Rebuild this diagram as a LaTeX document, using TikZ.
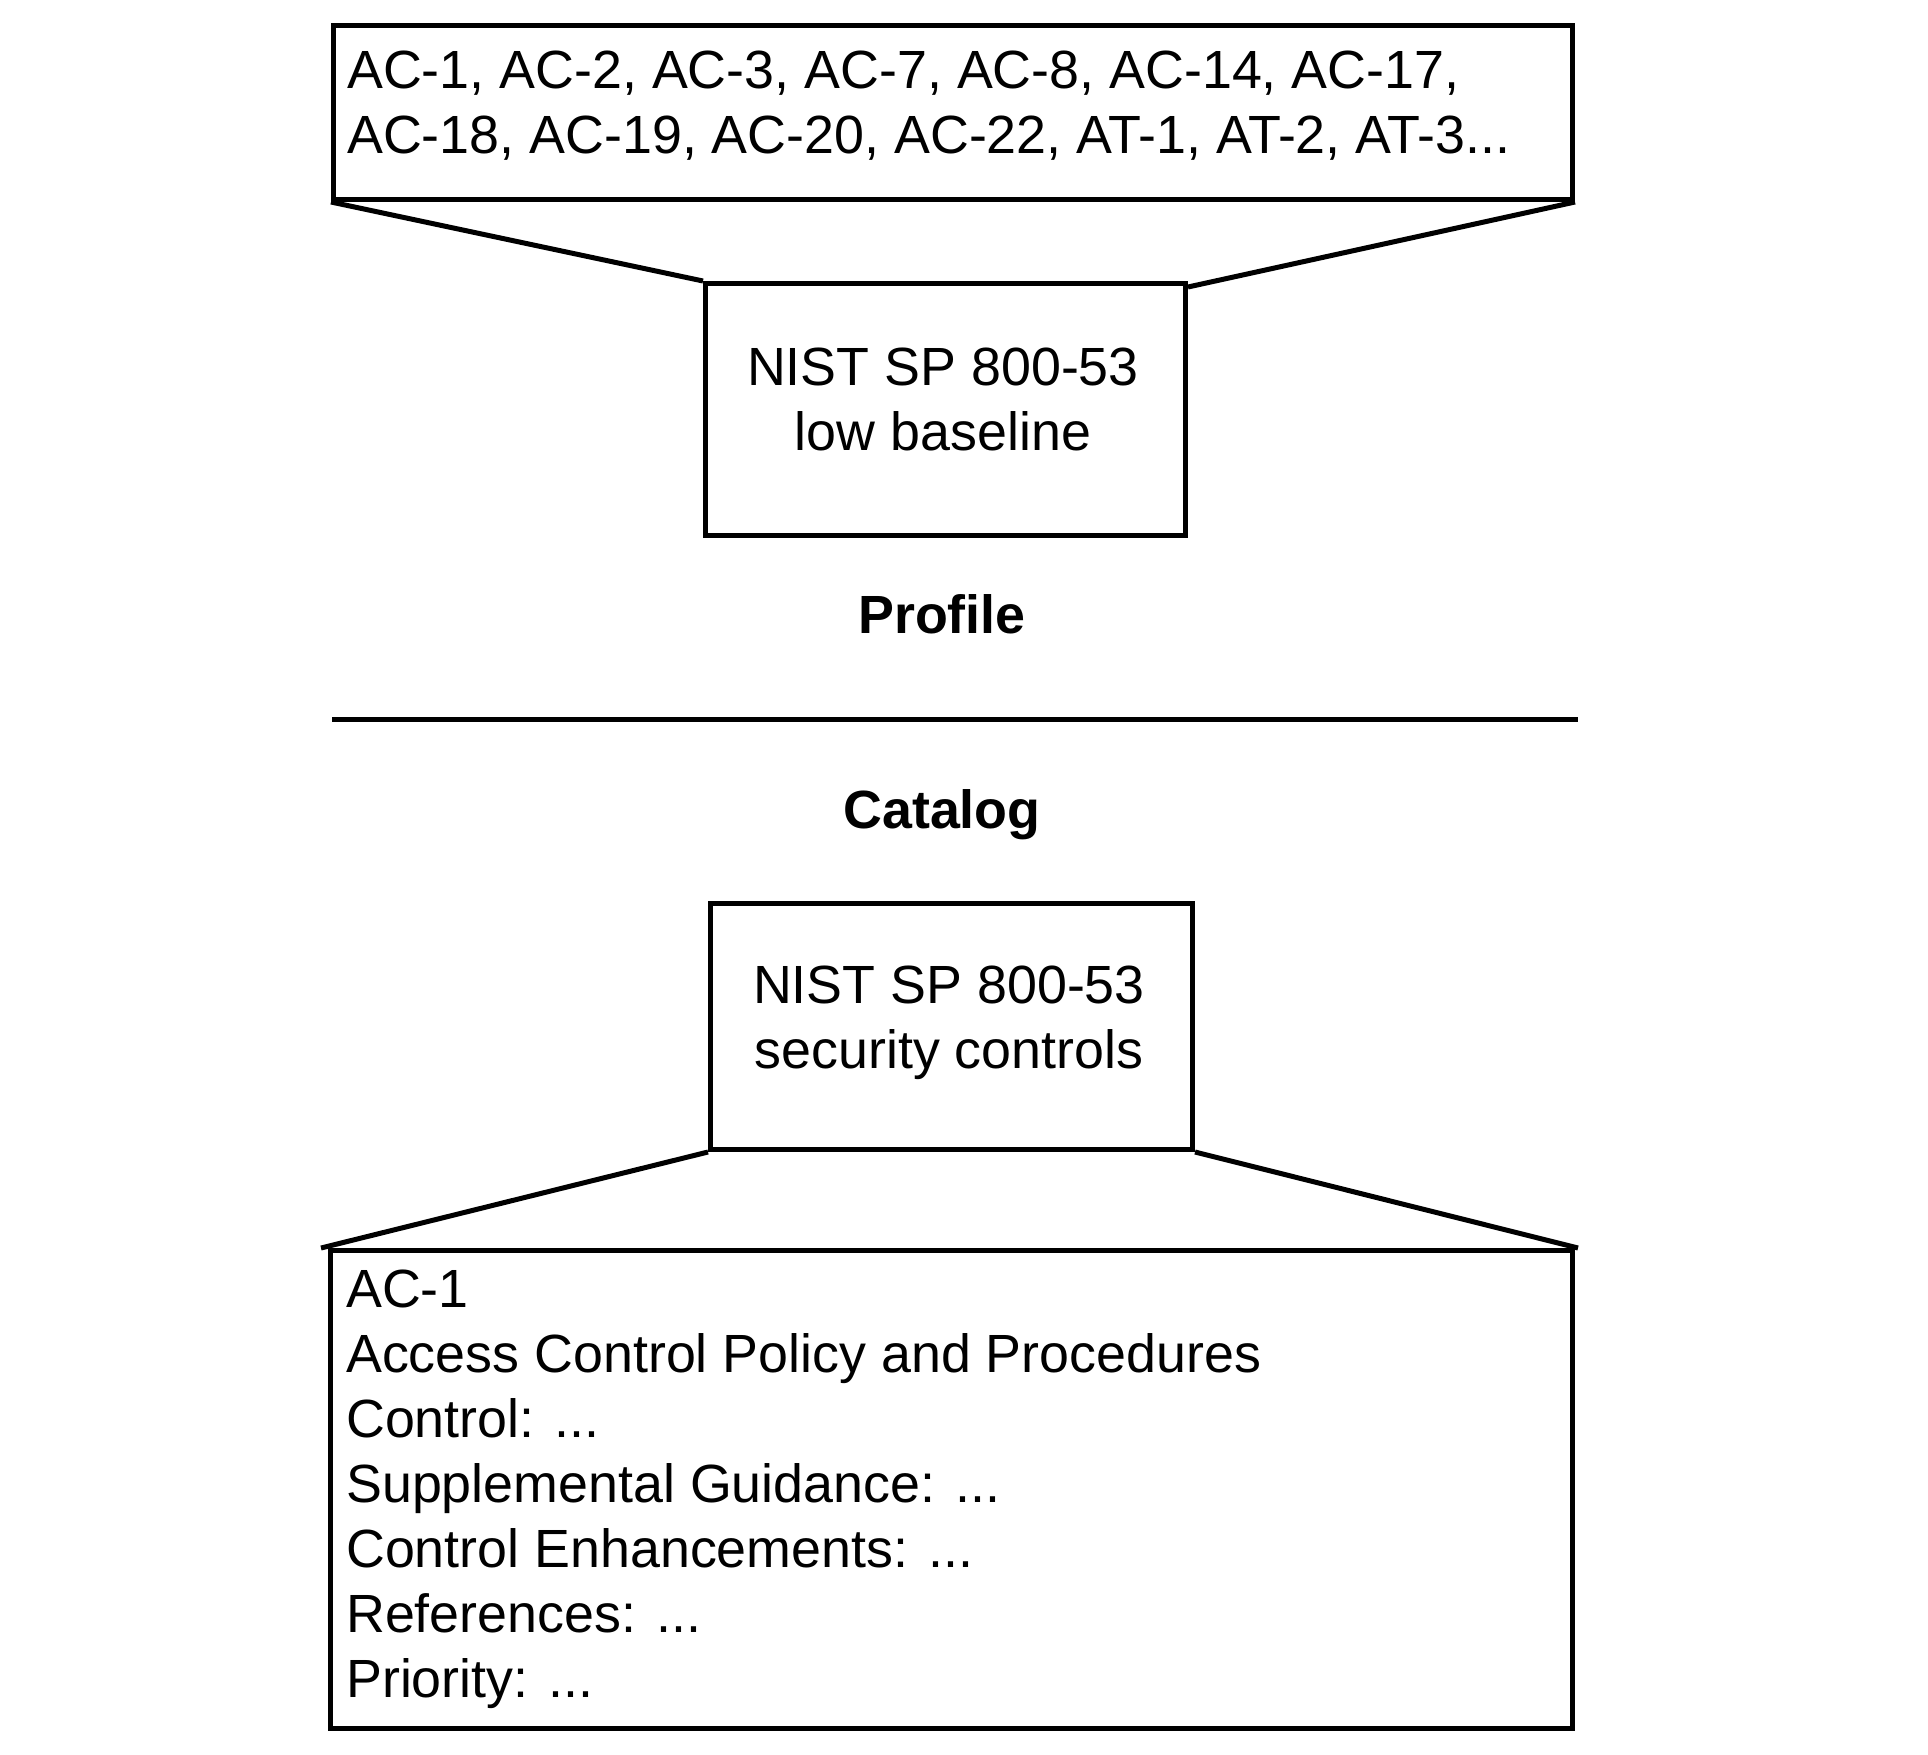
\documentclass[tikz,border=0pt]{standalone}
\usepackage{fontspec}
\setmainfont{Liberation Sans}
\begin{document}
\begin{tikzpicture}[x=1pt,y=-1pt,
  box/.style={draw,line width=5pt,inner sep=0pt,anchor=north west},
  txt/.style={font=\fontsize{53.8}{65}\selectfont,inner sep=0pt},
  bold/.style={font=\fontsize{53.8}{65}\selectfont\bfseries,inner sep=0pt,anchor=base},
  link/.style={line width=5pt,line join=round}]
\useasboundingbox (0,0) rectangle (1928,1754);
% boxes
\node[box,minimum width=1239pt,minimum height=174pt] (list) at (331,23) {};
\node[box,minimum width=480pt,minimum height=252pt] (low) at (703,281) {};
\node[box,minimum width=482pt,minimum height=246pt] (sec) at (708,901) {};
\node[box,minimum width=1242pt,minimum height=478pt] (detail) at (328,1248) {};
% connectors
\draw[link] (list.south west) -- (low.north west);
\draw[link] (list.south east) -- ([yshift=-6pt]low.north east);
\draw[link] (sec.south west) -- ([xshift=-7pt]detail.north west);
\draw[link] (sec.south east) -- ([xshift=3pt]detail.north east);
% divider
\coordinate (divL) at (332,719);
\coordinate (divR) at (1578,719);
\draw[link] (divL) -- (divR);
% texts
\node[txt,anchor=base west] (l1) at (347,88) {AC-1, AC-2, AC-3, AC-7, AC-8, AC-14, AC-17,};
\node[txt,anchor=base west] (l2) at (347,153) {AC-18, AC-19, AC-20, AC-22, AT-1, AT-2, AT-3...};
\node[txt,anchor=base] (lowa) at (943,385) {NIST SP 800-53};
\node[txt,anchor=base] (lowb) at (943,450) {low baseline};
\node[bold] (profile) at (942,633) {Profile};
\node[bold] (catalog) at (942,828) {Catalog};
\node[txt,anchor=base] (seca) at (949,1003) {NIST SP 800-53};
\node[txt,anchor=base] (secb) at (949,1068) {security controls};
\node[txt,anchor=base west] (d1) at (346,1307) {AC-1};
\node[txt,anchor=base west] (d2) at (346,1372) {Access Control Policy and Procedures};
\node[txt,anchor=base west] (d3) at (346,1437) {Control: ...};
\node[txt,anchor=base west] (d4) at (346,1502) {Supplemental Guidance: ...};
\node[txt,anchor=base west] (d5) at (346,1567) {Control Enhancements: ...};
\node[txt,anchor=base west] (d6) at (346,1632) {References: ...};
\node[txt,anchor=base west] (d7) at (346,1697) {Priority: ...};
\end{tikzpicture}
\end{document}
